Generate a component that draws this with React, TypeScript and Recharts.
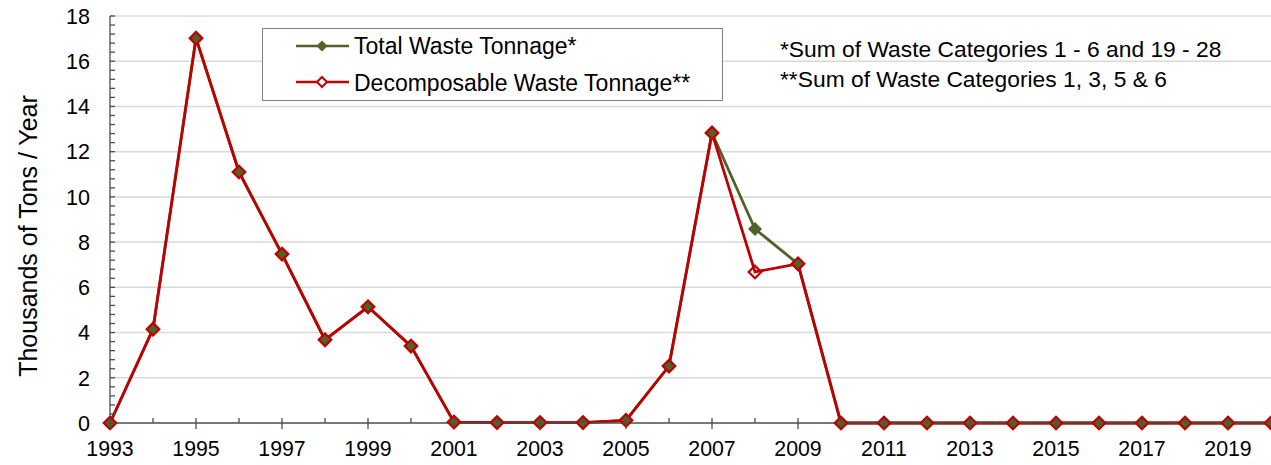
import { LineChart, Line, XAxis, YAxis, ReferenceLine, Legend } from 'recharts';

const years = [
  1993, 1994, 1995, 1996, 1997, 1998, 1999, 2000, 2001, 2002, 2003, 2004, 2005, 2006,
  2007, 2008, 2009, 2010, 2011, 2012, 2013, 2014, 2015, 2016, 2017, 2018, 2019, 2020,
];
const totalTonnage = [
  0, 4.15, 17.02, 11.1, 7.47, 3.68, 5.14, 3.4, 0.04, 0.02, 0.02, 0.02, 0.12, 2.52,
  12.83, 8.58, 7.04, 0, 0, 0, 0, 0, 0, 0, 0, 0, 0, 0,
];
const decompTonnage = [
  0, 4.15, 17.02, 11.1, 7.47, 3.68, 5.14, 3.4, 0.04, 0.02, 0.02, 0.02, 0.12, 2.52,
  12.83, 6.68, 7.04, 0, 0, 0, 0, 0, 0, 0, 0, 0, 0, 0,
];
const yGridValues = [2, 4, 6, 8, 10, 12, 14, 16, 18];
const xLabelYears = [1993, 1995, 1997, 1999, 2001, 2003, 2005, 2007, 2009, 2011, 2013, 2015, 2017, 2019];
const notes = ['*Sum of Waste Categories 1 - 6 and 19 - 28', '**Sum of Waste Categories 1, 3, 5 & 6'];

const GREEN = '#4F6228';
const RED = '#C00000';
const AXIS = '#4d4d4d';
const FONT = '"Liberation Sans", Arial, sans-serif';

const data = years.map((year, i) => ({ year, total: totalTonnage[i], decomp: decompTonnage[i] }));

// minor ticks every 0.4 on the value axis
const yTicks: number[] = [];
for (let i = 0; i <= 45; i++) yTicks.push(Math.round(i * 0.4 * 10) / 10);

const diamond = (cx: number, cy: number, r: number) =>
  `M${cx},${cy - r}L${cx + r},${cy}L${cx},${cy + r}L${cx - r},${cy}Z`;

const GreenDot = (p: any) => <path key={`g${p.index}`} d={diamond(p.cx, p.cy, 7)} fill={GREEN} />;
const RedDot = (p: any) => (
  <path key={`r${p.index}`} d={diamond(p.cx, p.cy, 6.3)} fill="none" stroke={RED} strokeWidth={2.2} />
);

const YTick = ({ x, y, payload }: any) => {
  const v = payload.value;
  const major = Math.abs(v / 2 - Math.round(v / 2)) < 1e-6;
  return (
    <g>
      <line x1={x} x2={x + 5} y1={y} y2={y} stroke={AXIS} strokeWidth={1.3} />
      {major && (
        <text x={x - 20} y={y} dy="0.36em" textAnchor="end" fontSize={21.5} fontFamily={FONT} fill="#000">
          {v}
        </text>
      )}
    </g>
  );
};

const XTick = ({ x, y, payload }: any) => {
  const major = xLabelYears.includes(payload.value);
  return (
    <g>
      <line x1={x} x2={x} y1={major ? y + 6 : y} y2={y - 5} stroke={AXIS} strokeWidth={1.3} />
      {major && (
        <text x={x} y={y + 33} textAnchor="middle" fontSize={21.3} fontFamily={FONT} fill="#000">
          {payload.value}
        </text>
      )}
    </g>
  );
};

const LegendBox = () => (
  <svg width={461} height={73} style={{ display: 'block' }}>
    <rect x={0.5} y={0.5} width={460} height={72} fill="#fff" stroke="#808080" />
    <line x1={34} x2={87} y1={18} y2={18} stroke={GREEN} strokeWidth={2.5} />
    <path d={diamond(60, 18, 5.5)} fill={GREEN} />
    <text x={92} y={26} fontSize={23} fontFamily={FONT} fill="#000">Total Waste Tonnage*</text>
    <line x1={34} x2={87} y1={54} y2={54} stroke={RED} strokeWidth={2.5} />
    <path d={diamond(60, 54, 5)} fill="#fff" stroke={RED} strokeWidth={2} />
    <text x={92} y={62.5} fontSize={23} fontFamily={FONT} fill="#000">Decomposable Waste Tonnage**</text>
  </svg>
);

export default function App() {
  return (
    <div style={{ position: 'relative', width: 1271, height: 465, overflow: 'hidden', background: '#fff' }}>
      <style>{'body{margin:0}'}</style>
      <LineChart width={1271} height={465} data={data} margin={{ top: 16, right: 0, bottom: 0, left: 0 }}>
        {yGridValues.map((v) => (
          <ReferenceLine key={v} y={v} stroke="#d9d9d9" strokeWidth={1.5} />
        ))}
        <XAxis
          dataKey="year"
          type="number"
          domain={[1993, 2020]}
          ticks={years}
          interval={0}
          height={42}
          tickSize={0}
          tickMargin={0}
          tickLine={false}
          tick={<XTick />}
          axisLine={{ stroke: AXIS, strokeWidth: 1.3 }}
        />
        <YAxis
          type="number"
          domain={[0, 18]}
          ticks={yTicks}
          interval={0}
          width={110}
          tickSize={0}
          tickMargin={0}
          tickLine={false}
          tick={<YTick />}
          axisLine={{ stroke: AXIS, strokeWidth: 1.3 }}
        />
        <Legend
          layout="horizontal"
          verticalAlign="middle"
          align="center"
          content={<LegendBox />}
          wrapperStyle={{ position: 'absolute', left: 262, top: 28, width: 461, height: 73 }}
        />
        <Line
          dataKey="total"
          name="Total Waste Tonnage*"
          stroke={GREEN}
          strokeWidth={2.8}
          dot={GreenDot}
          activeDot={false}
          isAnimationActive={false}
        />
        <Line
          dataKey="decomp"
          name="Decomposable Waste Tonnage**"
          stroke={RED}
          strokeWidth={2.8}
          dot={RedDot}
          activeDot={false}
          isAnimationActive={false}
        />
      </LineChart>
      <svg
        width={1271}
        height={465}
        style={{ position: 'absolute', left: 0, top: 0, pointerEvents: 'none' }}
      >
        <text
          x={37}
          y={236}
          transform="rotate(-90 37 236)"
          textAnchor="middle"
          fontSize={25}
          fontFamily={FONT}
          fill="#000"
        >
          Thousands of Tons / Year
        </text>
        {notes.map((n, i) => (
          <text key={i} x={780} y={57 + i * 29.5} fontSize={22.8} fontFamily={FONT} fill="#000">
            {n}
          </text>
        ))}
      </svg>
    </div>
  );
}
